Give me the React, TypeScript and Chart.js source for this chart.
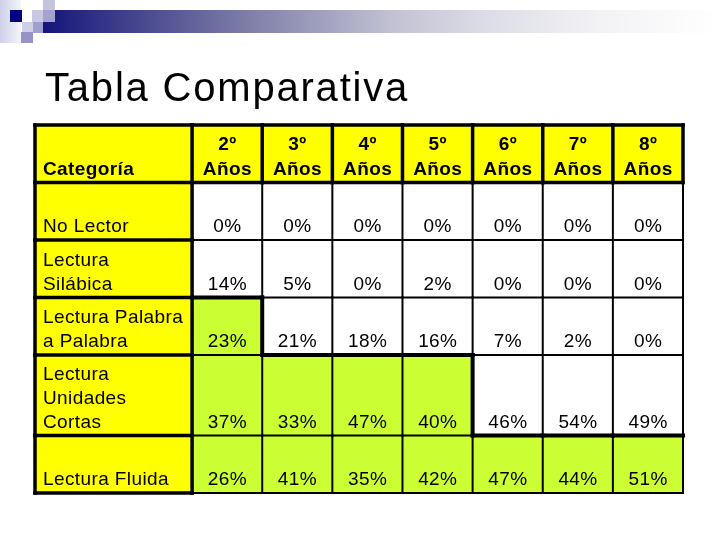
import { useEffect, useRef } from 'react';
import { Chart, registerables } from 'chart.js';

Chart.register(...registerables);

// ---------- data ----------
const TITLE = 'Tabla Comparativa';
const HEADER_LABEL = 'Categoría';
const YEAR_WORD = 'Años';
const GRADES = ['2º', '3º', '4º', '5º', '6º', '7º', '8º'];
const CATEGORIES = [
  ['No Lector'],
  ['Lectura', 'Silábica'],
  ['Lectura Palabra', 'a Palabra'],
  ['Lectura', 'Unidades', 'Cortas'],
  ['Lectura Fluida'],
];
const GRADE_2 = [0, 14, 23, 37, 26];
const GRADE_3 = [0, 5, 21, 33, 41];
const GRADE_4 = [0, 0, 18, 47, 35];
const GRADE_5 = [0, 2, 16, 40, 42];
const GRADE_6 = [0, 0, 7, 46, 47];
const GRADE_7 = [0, 0, 2, 54, 44];
const GRADE_8 = [0, 0, 0, 49, 51];
const SERIES = [GRADE_2, GRADE_3, GRADE_4, GRADE_5, GRADE_6, GRADE_7, GRADE_8];

// ---------- layout / style ----------
const COL_SPANS = [2.24, 1, 1, 1, 1, 1, 1, 1];
const ROW_SPANS = [2.5, 2.5, 2.5, 2.5, 3.5, 2.5];
// highlighted (green) cells: table row -> grade column indexes
const GREEN_CELLS: Record<number, number[]> = { 3: [0], 4: [0, 1, 2, 3], 5: [0, 1, 2, 3, 4, 5, 6] };
const FILL: Record<string, string> = { Y: '#ffff00', G: '#ccff33', W: '#ffffff' };
const THIN_W = 2;
const THICK_W = 4;
const YELLOW_W = 3.5;
const FONT = "'Liberation Sans', Arial, sans-serif";

const cumulative = (spans: number[]) => {
  const out = [0];
  spans.forEach((s) => out.push(out[out.length - 1] + s));
  return out;
};
const COL_EDGES = cumulative(COL_SPANS);
const ROW_EDGES = cumulative(ROW_SPANS);

const kind = (r: number, c: number): string | null => {
  if (r < 0 || r >= ROW_SPANS.length || c < 0 || c >= COL_SPANS.length) return null;
  if (r === 0 || c === 0) return 'Y';
  return (GREEN_CELLS[r] || []).includes(c - 1) ? 'G' : 'W';
};

const edgeWidth = (a: string | null, b: string | null) => {
  if (a === null && b === null) return 0;
  if (a === null || b === null) return (a ?? b) === 'Y' ? YELLOW_W : THIN_W;
  if (a === 'Y' || b === 'Y') return YELLOW_W;
  return a !== b ? THICK_W : THIN_W;
};

const decorPlugin = {
  id: 'slideDecor',
  beforeDraw(chart: any) {
    const ctx = chart.ctx as CanvasRenderingContext2D;
    ctx.save();
    ctx.fillStyle = '#ffffff';
    ctx.fillRect(0, 0, chart.width, chart.height);
    // left fading strip
    const lg = ctx.createLinearGradient(0, 0, 21, 0);
    lg.addColorStop(0, '#cfcfe9');
    lg.addColorStop(1, '#f4f4fb');
    ctx.fillStyle = lg;
    ctx.fillRect(0, 0, 21, 43);
    // top gradient bar
    const g = ctx.createLinearGradient(43, 0, 720, 0);
    g.addColorStop(0, '#15157a');
    g.addColorStop(0.29, '#7a7aa6');
    g.addColorStop(0.51, '#c0c0d2');
    g.addColorStop(0.65, '#dcdce6');
    g.addColorStop(0.82, '#f2f2f5');
    g.addColorStop(1, '#ffffff');
    ctx.fillStyle = g;
    ctx.fillRect(43, 10, 677, 23);
    // small squares
    const sq: [number, number, number, number, string][] = [
      [10, 10, 12, 12, '#000080'],
      [22, 10, 10, 12, '#ffffff'],
      [32, 10, 11, 12, '#c9c9e3'],
      [43, 0, 12, 10, '#c4c4de'],
      [43, 10, 12, 12, '#a3a3d0'],
      [22, 22, 11, 10, '#cfcfe8'],
      [33, 22, 10, 11, '#a0a0d0'],
      [21, 32, 12, 11, '#9494c8'],
    ];
    sq.forEach(([x, y, w, h, c]) => {
      ctx.fillStyle = c;
      ctx.fillRect(x, y, w, h);
    });
    // title
    ctx.fillStyle = '#000000';
    ctx.font = `40px ${FONT}`;
    (ctx as any).letterSpacing = '1.8px';
    ctx.textAlign = 'left';
    ctx.textBaseline = 'alphabetic';
    ctx.fillText(TITLE, 45, 101);
    ctx.restore();
  },
};

const tablePlugin = {
  id: 'tableGridText',
  afterDatasetsDraw(chart: any) {
    const ctx = chart.ctx as CanvasRenderingContext2D;
    const xs = chart.scales.x;
    const ys = chart.scales.y;
    const px = COL_EDGES.map((v) => xs.getPixelForValue(v));
    const py = ROW_EDGES.map((v) => ys.getPixelForValue(v));
    const segs: { x1: number; y1: number; x2: number; y2: number; w: number }[] = [];
    for (let r = 0; r <= ROW_SPANS.length; r++) {
      for (let c = 0; c < COL_SPANS.length; c++) {
        const w = edgeWidth(kind(r - 1, c), kind(r, c));
        if (w) segs.push({ x1: px[c], y1: py[r], x2: px[c + 1], y2: py[r], w });
      }
    }
    for (let c = 0; c <= COL_SPANS.length; c++) {
      for (let r = 0; r < ROW_SPANS.length; r++) {
        const w = edgeWidth(kind(r, c - 1), kind(r, c));
        if (w) segs.push({ x1: px[c], y1: py[r], x2: px[c], y2: py[r + 1], w });
      }
    }
    segs.sort((a, b) => a.w - b.w);
    ctx.save();
    ctx.strokeStyle = '#000000';
    ctx.lineCap = 'square';
    segs.forEach((s) => {
      ctx.lineWidth = s.w;
      ctx.beginPath();
      ctx.moveTo(s.x1, s.y1);
      ctx.lineTo(s.x2, s.y2);
      ctx.stroke();
    });

    // texts
    ctx.fillStyle = '#000000';
    ctx.textBaseline = 'alphabetic';
    (ctx as any).letterSpacing = '0.4px';
    chart.data.datasets.forEach((_ds: any, c: number) => {
      const meta = chart.getDatasetMeta(c);
      meta.data.forEach((el: any, r: number) => {
        const p = el.getProps(['x', 'y', 'base', 'width'], true);
        const bottom = Math.max(p.y, p.base);
        const left = p.x - p.width / 2;
        let lines: string[];
        let bold = false;
        if (c === 0) {
          lines = r === 0 ? [HEADER_LABEL] : CATEGORIES[r - 1];
          bold = r === 0;
          ctx.textAlign = 'left';
        } else {
          lines = r === 0 ? [GRADES[c - 1], YEAR_WORD] : [`${SERIES[c - 1][r - 1]}%`];
          bold = r === 0;
          ctx.textAlign = 'center';
        }
        ctx.font = `${bold ? 'bold ' : ''}19px ${FONT}`;
        const tx = c === 0 ? left + 8 : p.x + 0.2;
        const n = lines.length;
        const lh = r === 0 ? 25 : 24;
        lines.forEach((t, i) => {
          ctx.fillText(t, tx, bottom - 8 - (n - 1 - i) * lh);
        });
      });
    });
    ctx.restore();
  },
};

export default function App() {
  const ref = useRef<HTMLCanvasElement>(null);
  useEffect(() => {
    const canvas = ref.current;
    if (!canvas) return;
    const datasets = COL_SPANS.map((_, c) => ({
      label: c === 0 ? HEADER_LABEL : GRADES[c - 1],
      data: ROW_SPANS.map((__, r) => ({
        x: (COL_EDGES[c] + COL_EDGES[c + 1]) / 2,
        y: [ROW_EDGES[r], ROW_EDGES[r + 1]],
      })),
      backgroundColor: ROW_SPANS.map((__, r) => FILL[kind(r, c) as string]),
      borderWidth: 0,
      grouped: false,
      barThickness: (ctx: any) => {
        const xs = ctx.chart && ctx.chart.scales && ctx.chart.scales.x;
        if (!xs) return 1;
        const w = Math.abs(xs.getPixelForValue(COL_EDGES[c + 1]) - xs.getPixelForValue(COL_EDGES[c]));
        return Number.isFinite(w) && w > 0 ? w : 1;
      },
    }));
    const chart = new Chart(canvas, {
      type: 'bar',
      data: { datasets: datasets as any },
      options: {
        animation: false,
        responsive: false,
        devicePixelRatio: 1,
        events: [],
        layout: { padding: { left: 35, top: 125, right: 37, bottom: 47 } },
        plugins: { legend: { display: false }, tooltip: { enabled: false }, title: { display: false } },
        scales: {
          x: { type: 'linear', display: false, offset: false, min: 0, max: COL_EDGES[COL_EDGES.length - 1] },
          y: { type: 'linear', display: false, min: 0, max: ROW_EDGES[ROW_EDGES.length - 1], reverse: true },
        },
      },
      plugins: [decorPlugin, tablePlugin],
    } as any);
    return () => chart.destroy();
  }, []);
  return (
    <div style={{ position: 'fixed', left: 0, top: 0, width: 720, height: 540, background: '#ffffff' }}>
      <canvas ref={ref} width={720} height={540} style={{ display: 'block', width: 720, height: 540 }} />
    </div>
  );
}
